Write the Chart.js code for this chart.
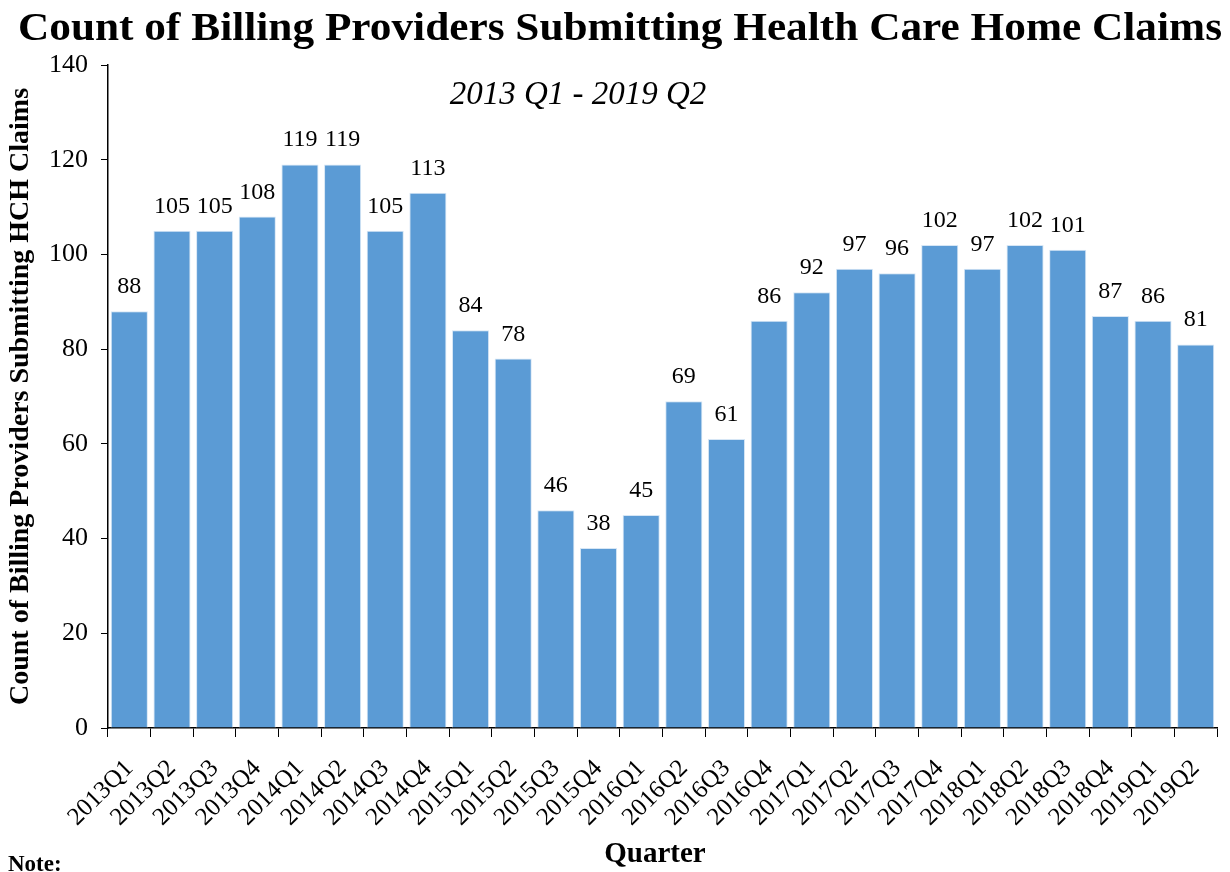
<!DOCTYPE html>
<html lang="en">
<head>
    <meta charset="UTF-8">
    <title>Count of Billing Providers Submitting Health Care Home Claims</title>
    <style>
        body {
            margin: 0;
            background-color: #ffffff;
        }

        .chart-box {
            width: 1230px;
            height: 872px;
        }
    </style>
</head>
<body>
    <div class="chart-box">
        <canvas id="hchChart" width="1230" height="872"></canvas>
    </div>

    <script src="https://cdn.jsdelivr.net/npm/chart.js"></script>
    <script>
        // Data
        const quarters = ['2013Q1', '2013Q2', '2013Q3', '2013Q4', '2014Q1', '2014Q2', '2014Q3', '2014Q4',
            '2015Q1', '2015Q2', '2015Q3', '2015Q4', '2016Q1', '2016Q2', '2016Q3', '2016Q4',
            '2017Q1', '2017Q2', '2017Q3', '2017Q4', '2018Q1', '2018Q2', '2018Q3', '2018Q4',
            '2019Q1', '2019Q2'];
        const providerCounts = [88, 105, 105, 108, 119, 119, 105, 113, 84, 78, 46, 38, 45, 69, 61, 86,
            92, 97, 96, 102, 97, 102, 101, 87, 86, 81];
        const yTicks = [0, 20, 40, 60, 80, 100, 120, 140];

        const serif = "'Liberation Serif', 'Times New Roman', serif";

        // Title, subtitle, axis title, note and value labels
        const textPlugin = {
            id: 'textPlugin',
            afterDatasetsDraw(chart) {
                const ctx = chart.ctx;
                ctx.save();
                ctx.fillStyle = '#000';
                ctx.textAlign = 'center';
                ctx.textBaseline = 'alphabetic';

                // main title, a little wider than the font gives
                ctx.font = 'bold 39px ' + serif;
                const titleText = 'Count of Billing Providers Submitting Health Care Home Claims';
                const sx = 1204 / ctx.measureText(titleText).width;
                ctx.save();
                ctx.translate(620, 40);
                ctx.scale(sx, 1);
                ctx.fillText(titleText, 0, 0);
                ctx.restore();

                ctx.font = 'italic 33px ' + serif;
                ctx.fillText('2013 Q1 - 2019 Q2', 578, 104);

                // value labels above bars
                ctx.font = '24px ' + serif;
                const meta = chart.getDatasetMeta(0);
                meta.data.forEach((bar, i) => {
                    ctx.fillText(String(providerCounts[i]), bar.x, bar.y - 18);
                });

                ctx.font = 'bold 29px ' + serif;
                ctx.fillText('Quarter', 655, 862);

                ctx.textAlign = 'left';
                ctx.font = 'bold 23px ' + serif;
                ctx.fillText('Note:', 8, 871);
                ctx.restore();
            }
        };

        const ctx = document.getElementById('hchChart').getContext('2d');
        const hchChart = new Chart(ctx, {
            type: 'bar',
            data: {
                labels: quarters,
                datasets: [{
                    label: 'Billing providers',
                    data: providerCounts,
                    backgroundColor: '#5b9bd5',
                    borderColor: '#d6e6f5',
                    borderWidth: 1,
                    barPercentage: 0.87,
                    categoryPercentage: 1.0
                }]
            },
            options: {
                responsive: false,
                animation: false,
                layout: {
                    padding: { top: 65, right: 13, bottom: 4, left: 4 }
                },
                plugins: {
                    legend: { display: false },
                    tooltip: { enabled: false }
                },
                scales: {
                    x: {
                        grid: {
                            offset: true,
                            drawOnChartArea: false,
                            tickLength: 9,
                            color: '#000'
                        },
                        border: { color: '#000', width: 1.5 },
                        ticks: {
                            color: '#000',
                            font: { family: serif, size: 25 },
                            minRotation: 45,
                            maxRotation: 45,
                            autoSkip: false,
                            padding: 17
                        },
                        afterFit(scale) {
                            scale.height = 140;
                            // rotated labels end at the bar centre, no extra side room needed
                            scale.paddingLeft = 0;
                            scale.paddingRight = 0;
                        }
                    },
                    y: {
                        min: 0,
                        max: 140,
                        afterBuildTicks(scale) {
                            scale.ticks = yTicks.map(v => ({ value: v }));
                        },
                        grid: {
                            drawOnChartArea: false,
                            tickLength: 7,
                            color: '#000'
                        },
                        border: { color: '#000', width: 1.5 },
                        ticks: {
                            color: '#000',
                            font: { family: serif, size: 26 },
                            padding: 13
                        },
                        title: {
                            display: true,
                            text: 'Count of Billing Providers Submitting HCH Claims',
                            color: '#000',
                            font: { family: serif, size: 28, weight: 'bold' },
                            padding: { top: 0, bottom: 6 }
                        },
                        afterFit(scale) {
                            scale.width = 104;
                        }
                    }
                }
            },
            plugins: [textPlugin]
        });
    </script>
</body>
</html>
